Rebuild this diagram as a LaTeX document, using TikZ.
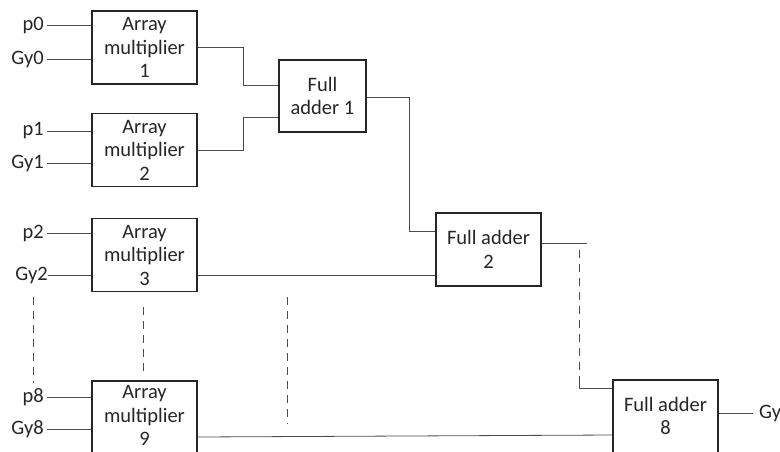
\documentclass[tikz,border=0pt]{standalone}
\usepackage{fontspec}
\setmainfont{Carlito}
\begin{document}
\begin{tikzpicture}[x=1pt,y=-1pt,
  blk/.style={draw=black!85,line width=1.1pt,fill=white,inner sep=0pt,align=center,
    font=\fontsize{20.5}{23.5}\selectfont,text=black!85},
  amul/.style={blk,minimum width=105pt,minimum height=73pt},
  fadd/.style={blk,minimum width=105pt,minimum height=73pt},
  lbl/.style={inner sep=0pt,font=\fontsize{20.5}{22}\selectfont,anchor=east,text=black!85},
  wire/.style={draw=black!70,line width=0.8pt},
  dwire/.style={wire,dash pattern=on 8pt off 6pt}]
\clip (0,0) rectangle (780,451);
% array multipliers
\node[amul] (am1) at (144.5,47.5) {Array\\multiplier\\1};
\node[amul] (am2) at (144.5,150) {Array\\multiplier\\2};
\node[amul] (am3) at (144.5,255) {Array\\multiplier\\3};
\node[amul,minimum height=73pt,text depth=4pt] (am9) at (144.5,417.5) {Array\\multiplier\\9};
% full adders
\node[fadd,minimum width=87pt,minimum height=72pt] (fa1) at (322.5,96) {Full\\adder 1};
\node[fadd] (fa2) at (488.5,249.5) {Full adder\\2};
\node[fadd,minimum height=74pt,text depth=2pt] (fa8) at (665.5,417) {Full adder\\8};
% input labels
\node[lbl] (p0) at (44,25) {p0};
\node[lbl] (gy0) at (44,59) {Gy0};
\node[lbl] (p1) at (44,131) {p1};
\node[lbl] (gy1) at (44,163) {Gy1};
\node[lbl] (p2) at (44,233) {p2};
\node[lbl] (gy2) at (48,275) {Gy2};
\node[lbl] (p8) at (44,397) {p8};
\node[lbl] (gy8) at (44,429) {Gy8};
\node[lbl,anchor=west] (gyo) at (759,413) {Gy};
% input wires
\foreach \n/\b in {p0/am1,gy0/am1,p1/am2,gy1/am2,p2/am3,p8/am9,gy8/am9}
  \draw[wire] ([xshift=3pt]\n.east) -- (\n.east -| \b.west);
\draw[wire] (gy2.east) -- (gy2.east -| am3.west);
% connections
\coordinate (j1) at (243,47);
\coordinate (j2) at (243,150);
\draw[wire] (am1.east |- j1) -- (j1) -- (j1 |- 0,85) -- (fa1.west |- 0,85);
\draw[wire] (am2.east |- j2) -- (j2) -- (j2 |- 0,117) -- (fa1.west |- 0,117);
\coordinate (j3) at (409,97);
\draw[wire] (fa1.east |- j3) -- (j3) -- (j3 |- 0,231) -- (fa2.west |- 0,231);
\draw[wire] (am3.east |- 0,275) -- (fa2.west |- 0,275);
\coordinate (j4) at (587,243);
\draw[wire] (fa2.east |- j4) -- (j4);
\coordinate (d1) at (579,250);
\coordinate (d2) at (579,382);
\coordinate (j5) at (579,388);
\draw[dwire] (d1) -- (d2);
\draw[wire] (d2) -- (j5) -- (fa8.west |- j5);
\draw[wire] (am9.east |- 0,437) -- (fa8.west |- 0,435);
\draw[wire] (fa8.east |- gyo.west) -- ([xshift=-6pt]gyo.west);
% continuation dashes
\coordinate (a1) at (33,297); \coordinate (a2) at (33,383);
\coordinate (b1) at (143,307); \coordinate (b2) at (143,373);
\coordinate (c1) at (287,297); \coordinate (c2) at (287,424);
\draw[dwire] (a1) -- (a2);
\draw[dwire] (b1) -- (b2);
\draw[dwire] (c1) -- (c2);
\end{tikzpicture}
\end{document}
